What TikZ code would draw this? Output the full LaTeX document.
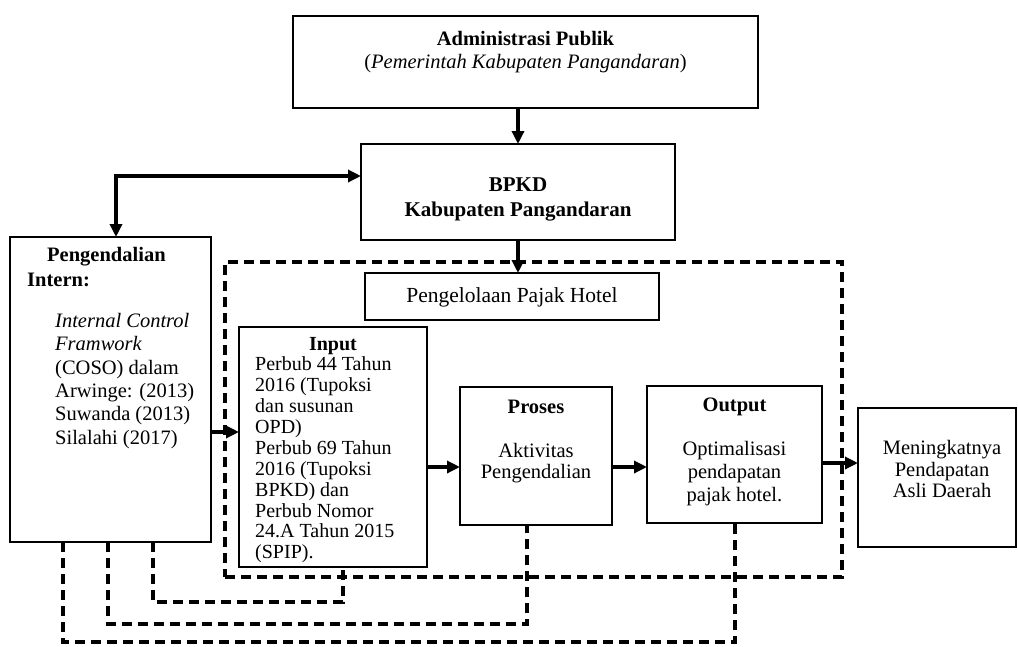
\documentclass[tikz,border=0pt]{standalone}
\usepackage{fontspec}
\setmainfont{Liberation Serif}
\usetikzlibrary{arrows.meta,calc}
\begin{document}
\begin{tikzpicture}[x=1pt,y=-1pt,
 box/.style={draw, line width=2.7pt, rectangle, inner sep=0pt, outer sep=0pt},
 frame/.style={draw, line width=3.2pt, dash pattern=on 10pt off 6pt, rectangle, inner sep=0pt, outer sep=0pt},
 arr/.style={line width=3.4pt, -{Triangle[length=13pt,width=12pt]}},
 darr/.style={line width=3.4pt, {Triangle[length=13pt,width=12pt]}-{Triangle[length=13pt,width=12pt]}},
 fb/.style={line width=3.2pt, dash pattern=on 10pt off 6pt},
 txt/.style={inner sep=0pt, font=\fontsize{20.5}{23.3}\selectfont},
 txtin/.style={inner sep=0pt, font=\fontsize{20}{20.9}\selectfont},
]
\useasboundingbox (0,0) rectangle (1018,646);
\fill[white] (0,0) rectangle (1018,646);

% boxes
\node[box, minimum width=465pt, minimum height=92pt] (admin) at (525.5,62) {};
\node[box, minimum width=314pt, minimum height=96pt] (bpkd) at (518,192) {};
\node[frame, minimum width=617pt, minimum height=315pt] (frame) at (533.5,419.5) {};
\node[box, fill=white, minimum width=294pt, minimum height=47pt] (pajak) at (512,296.5) {};
\node[box, minimum width=201pt, minimum height=305pt] (pi) at (110.5,389.5) {};
\node[box, fill=white, minimum width=188pt, minimum height=240pt] (input) at (333,447) {};
\node[box, minimum width=152pt, minimum height=138pt] (proses) at (536,456) {};
\node[box, minimum width=175pt, minimum height=137pt] (output) at (734.5,454.5) {};
\node[box, minimum width=158pt, minimum height=139pt] (pad) at (937,477.5) {};

% texts
\node[txt, align=center] (tadmin) at (525.5,52) {\textbf{Administrasi Publik}\\(\textit{Pemerintah Kabupaten Pangandaran})};
\node[txt, align=center, font=\fontsize{21}{25}\selectfont\bfseries] (tbpkd) at (518,199) {BPKD\\Kabupaten Pangandaran};
\node[txt, font=\fontsize{21.5}{24}\selectfont] (tpajak) at (512,297) {Pengelolaan Pajak Hotel};
\node[txt, anchor=west, font=\fontsize{20.5}{23.3}\selectfont\bfseries] (tpi1) at (47,257) {Pengendalian};
\node[txt, anchor=west, font=\fontsize{20.5}{23.3}\selectfont\bfseries] (tpi2) at (27,280) {Intern:};
\node[txt, anchor=west, align=left] (tpi3) at (55,381) {\textit{Internal Control}\\\textit{Framwork}\\(COSO) dalam\\Arwinge: (2013)\\Suwanda (2013)\\Silalahi (2017)};
\node[txtin, font=\fontsize{20}{20.9}\selectfont\bfseries] (tin1) at (333,346) {Input};
\node[txtin, anchor=west, align=left] (tin2) at (255,460) {Perbub 44 Tahun\\2016 (Tupoksi\\dan susunan\\OPD)\\Perbub 69 Tahun\\2016 (Tupoksi\\BPKD) dan\\Perbub Nomor\\24.A Tahun 2015\\(SPIP).};
\node[txt, font=\fontsize{20.5}{23}\selectfont\bfseries] (tpr1) at (536,407) {Proses};
\node[txt, align=center, font=\fontsize{20.5}{21.5}\selectfont] (tpr2) at (536,463) {Aktivitas\\Pengendalian};
\node[txt, font=\fontsize{20.5}{23}\selectfont\bfseries] (tou1) at (734.5,407) {Output};
\node[txt, align=center, font=\fontsize{20.5}{23}\selectfont] (tou2) at (734.5,474) {Optimalisasi\\pendapatan\\pajak hotel.};
\node[txt, align=center, font=\fontsize{20.5}{21.5}\selectfont] (tpad) at (942,469) {Meningkatnya\\Pendapatan\\Asli Daerah};

% coordinates for connectors
\coordinate (corner) at (116,176);
\coordinate (ya) at (0,432);
\coordinate (yb) at (0,467);
\coordinate (yc) at (0,463);
\coordinate (f1a) at (153,602);
\coordinate (f1b) at (343,602);
\coordinate (f2a) at (108,624);
\coordinate (f2b) at (527,624);
\coordinate (f3a) at (63,642);
\coordinate (f3b) at (735,642);

% solid connectors
\draw[arr] (admin.south -| bpkd.north) -- (bpkd.north);
\draw[arr] (bpkd.south) -- (bpkd.south |- pajak.north);
\draw[darr] (pi.north -| corner) -- (corner) -- (corner -| bpkd.west);
\draw[arr] (pi.east |- ya) -- (input.west |- ya);
\draw[arr] (input.east |- yb) -- (proses.west |- yb);
\draw[arr] (proses.east |- yb) -- (output.west |- yb);
\draw[arr] (output.east |- yc) -- (pad.west |- yc);

% dashed feedback connectors
\draw[fb] (pi.south -| f1a) -- (f1a) -- (f1b) -- (f1b |- input.south);
\draw[fb] (pi.south -| f2a) -- (f2a) -- (f2b) -- (f2b |- proses.south);
\draw[fb] (pi.south -| f3a) -- (f3a) -- (f3b) -- (f3b |- output.south);
\end{tikzpicture}
\end{document}
